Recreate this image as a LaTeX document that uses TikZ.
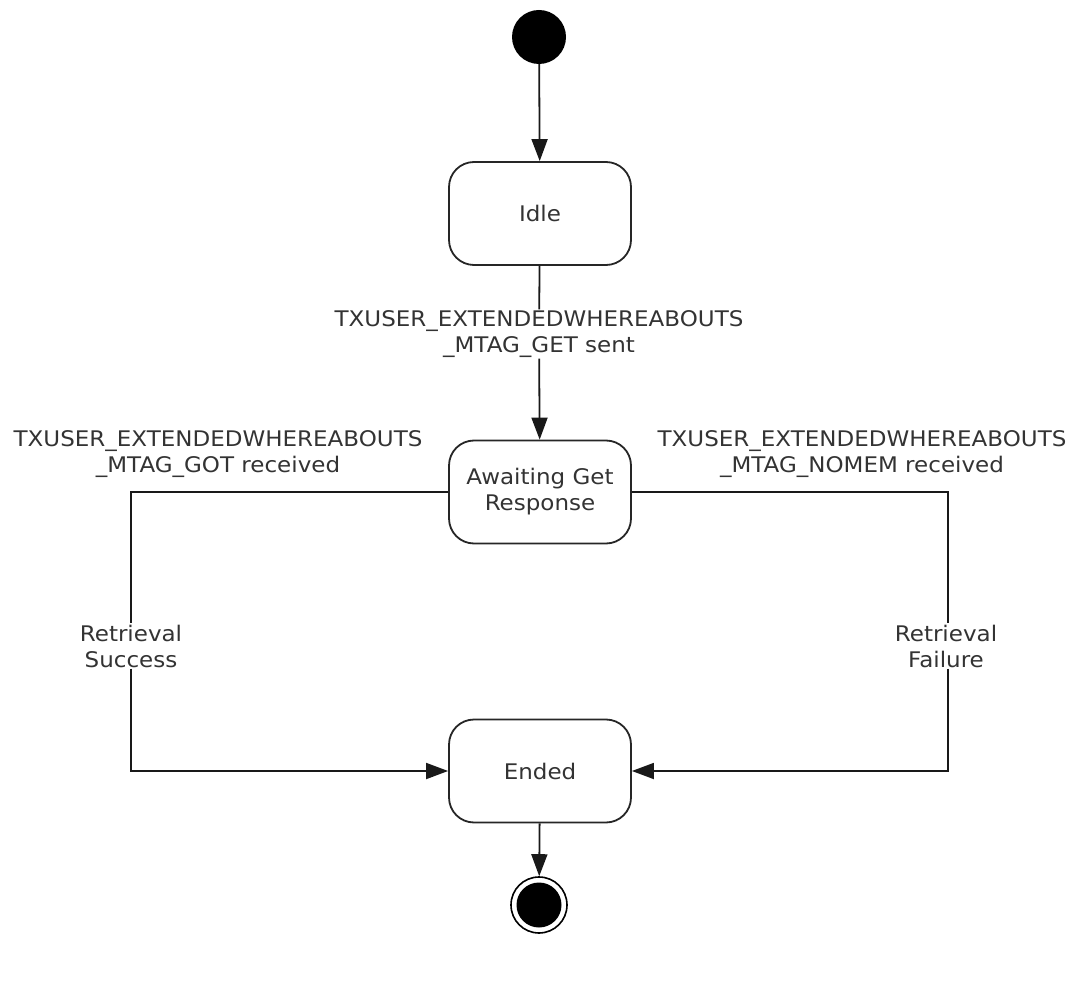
\documentclass[tikz,border=0pt]{standalone}
\usepackage{fontspec}
\setmainfont[FakeStretch=1.07]{DejaVu Sans}
\usetikzlibrary{arrows.meta}
\begin{document}
\begin{tikzpicture}[x=1pt,y=-1pt,
  font=\fontsize{21.5}{26}\selectfont,
  statebox/.style={draw=black!85,line width=1.8pt,rounded corners=25pt,minimum width=182pt,minimum height=103pt,inner sep=0pt,text=black!80,align=center},
  lbl/.style={text=black!80,align=center,inner sep=1pt},
  flow/.style={draw=black!90,line width=1.8pt,-{Triangle[length=22pt,width=16pt]}},
  line/.style={draw=black!90,line width=1.8pt}]
\useasboundingbox (0,0) rectangle (1071,981);
\node[circle,fill=black,minimum size=54pt,inner sep=0pt] (start) at (539,37) {};
\node[statebox] (idle) at (540,213.5) {Idle};
\node[statebox] (await) at (540,492) {Awaiting Get\\Response};
\node[statebox] (ended) at (540,771) {Ended};
\node[circle,draw=black,line width=1.6pt,minimum size=56pt,inner sep=0pt] (final) at (539,905) {};
\node[circle,fill=black,minimum size=45pt,inner sep=0pt] at (final) {};
\node[lbl,fill=white] (l1) at (539,334) {TXUSER\_EXTENDEDWHEREABOUTS\\\_MTAG\_GET sent};
\node[lbl] (l2) at (218,454) {TXUSER\_EXTENDEDWHEREABOUTS\\\_MTAG\_GOT received};
\node[lbl] (l3) at (862,454) {TXUSER\_EXTENDEDWHEREABOUTS\\\_MTAG\_NOMEM received};
\node[lbl,fill=white] (l4) at (131,646) {Retrieval\\Success};
\node[lbl,fill=white] (l5) at (946,646) {Retrieval\\Failure};
\coordinate (c1) at (131,492);
\coordinate (c2) at (131,771);
\coordinate (c3) at (948,492);
\coordinate (c4) at (948,771);
\draw[flow] (start) -- (idle);
\draw[line] (idle) -- (l1);
\draw[flow] (l1) -- (await);
\draw[line] (await.west) -- (c1) -- (c1 |- l4.north);
\draw[flow] (c2 |- l4.south) -- (c2) -- (ended.west);
\draw[line] (await.east) -- (c3) -- (c3 |- l5.north);
\draw[flow] (c4 |- l5.south) -- (c4) -- (ended.east);
\draw[flow] (ended) -- (final);
\end{tikzpicture}
\end{document}
